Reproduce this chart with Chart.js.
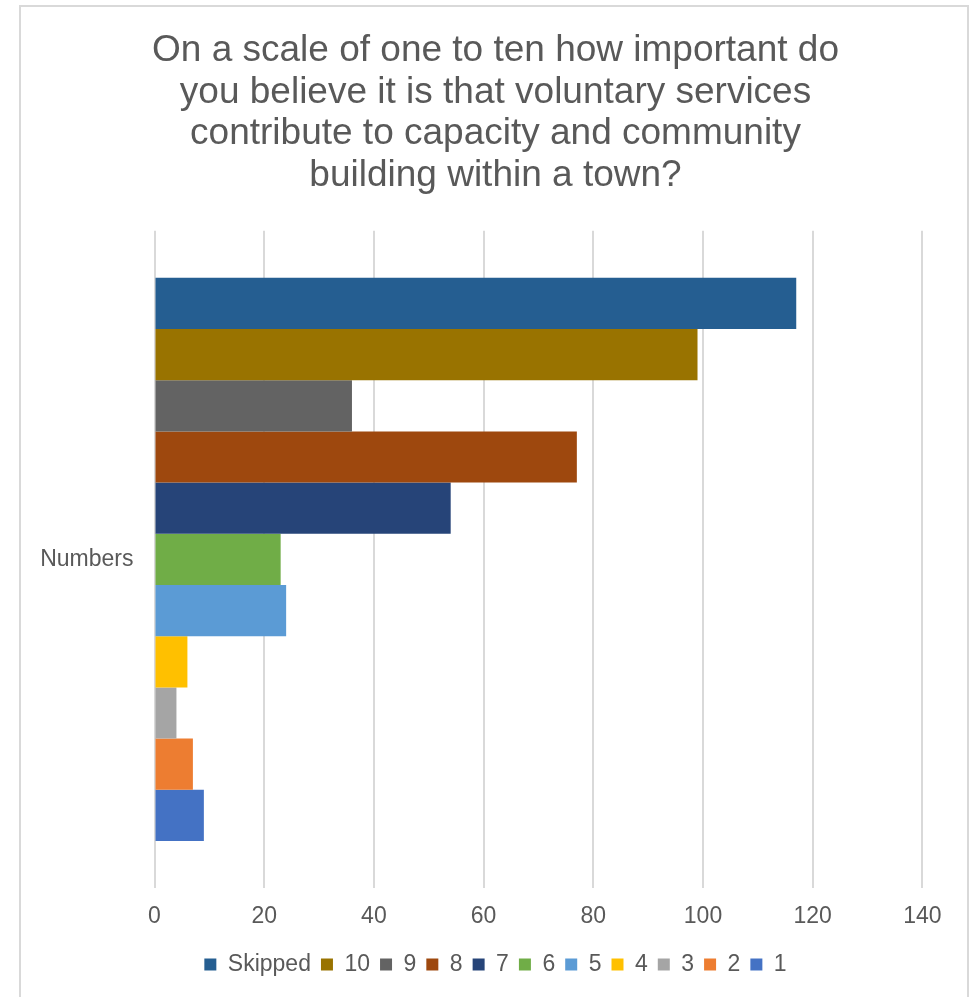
<!DOCTYPE html>
<html>
<head>
<meta charset="utf-8">
<script src="https://cdn.jsdelivr.net/npm/chart.js@4"></script>
<style>
    body { margin: 0; background: #ffffff; }
    #wrap { position: absolute; left: 0; top: 0; width: 978px; height: 997px; }
    #frame {
        position: absolute; left: 19px; top: 5px; width: 950px; height: 1000px;
        border: 2px solid #d9d9d9; box-sizing: border-box;
    }
</style>
</head>
<body>
<div id="frame"></div>
<div id="wrap"><canvas id="myChart"></canvas></div>
<script>
const categories = ["Numbers"];
const seriesNames = ["Skipped", "10", "9", "8", "7", "6", "5", "4", "3", "2", "1"];
const seriesValues = [117, 99, 36, 77, 54, 23, 24, 6, 4, 7, 9];
const seriesColors = ["#255E91", "#997300", "#636363", "#9E480E", "#264478", "#70AD47",
    "#5B9BD5", "#FFC000", "#A5A5A5", "#ED7D31", "#4472C4"];
const xTicks = [0, 20, 40, 60, 80, 100, 120, 140];
const titleLines = [
    "On a scale of one to ten how important do",
    "you believe it is that voluntary services",
    "contribute to capacity and community",
    "building within a town?"
];

const textColor = "#595959";
const fontFamily = "'Liberation Sans', Arial, sans-serif";

let datasets = [];
for (let i = 0; i < seriesNames.length; i++) {
    datasets.push({
        label: seriesNames[i],
        data: [seriesValues[i]],
        backgroundColor: seriesColors[i],
        borderWidth: 0,
        categoryPercentage: 0.857,
        barPercentage: 1,
    });
}

const config = {
    type: "bar",
    data: { labels: categories, datasets: datasets },
    options: {
        indexAxis: "y",
        responsive: true,
        maintainAspectRatio: false,
        animation: false,
        layout: { padding: { left: 33, right: 20, top: 0, bottom: 11 } },
        plugins: {
            title: {
                display: true,
                text: titleLines,
                color: textColor,
                font: { family: fontFamily, size: 37, weight: "normal", lineHeight: 1.127 },
                padding: { top: 30, bottom: 34 },
            },
            legend: {
                position: "bottom",
                labels: {
                    color: textColor,
                    font: { family: fontFamily, size: 23 },
                    boxWidth: 12,
                    boxHeight: 12,
                    padding: 10,
                },
            },
            tooltip: { enabled: false },
        },
        scales: {
            x: {
                min: 0,
                max: 140,
                afterBuildTicks: (scale) => {
                    scale.ticks = xTicks.map((v) => ({ value: v }));
                },
                afterFit: (scale) => { scale.height = 55; },
                grid: { color: "#d9d9d9", lineWidth: 2, drawTicks: false },
                border: { display: false },
                ticks: {
                    color: textColor,
                    font: { family: fontFamily, size: 23 },
                    padding: 15,
                },
            },
            y: {
                afterFit: (scale) => { scale.width = 121.5; },
                grid: { display: false, drawTicks: false },
                border: { display: false },
                ticks: {
                    color: textColor,
                    font: { family: fontFamily, size: 23 },
                    padding: 21,
                },
            },
            // empty right-hand axis, only keeps the plot narrower than the title
            yRight: {
                type: "category",
                position: "right",
                afterFit: (scale) => { scale.width = 35.6; },
                grid: { display: false, drawTicks: false },
                border: { display: false },
                ticks: { display: false },
            },
        },
    },
};

let myChart = new Chart(document.getElementById("myChart"), config);
</script>
</body>
</html>
